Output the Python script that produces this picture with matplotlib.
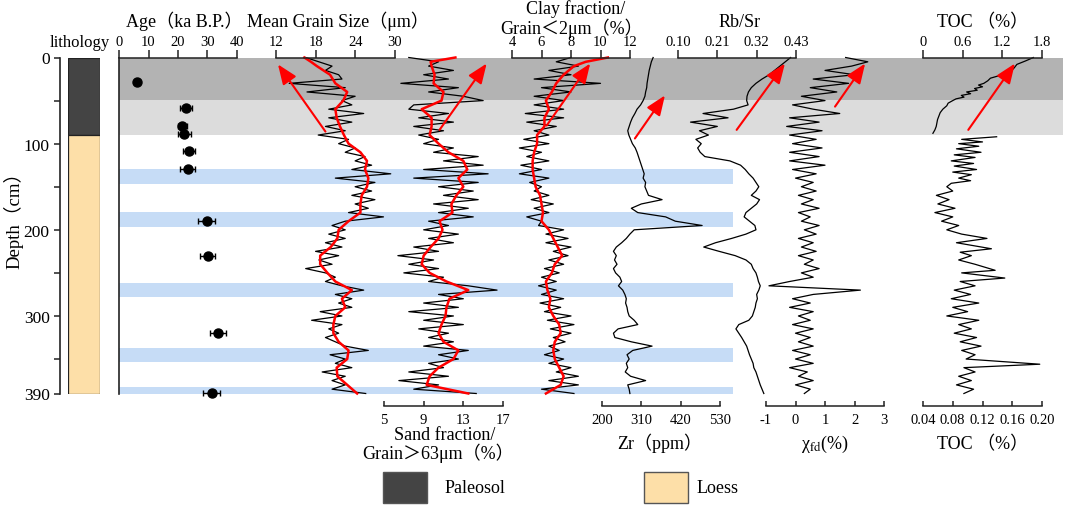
import numpy as np
import matplotlib
matplotlib.use('Agg')
import matplotlib.pyplot as plt
from matplotlib.patches import Rectangle

plt.rcParams['font.family'] = ['Liberation Serif', 'Noto Sans CJK SC']
plt.rcParams['mathtext.fontset'] = 'stix'
plt.rcParams['axes.unicode_minus'] = False

# ---------------- data ----------------
depth5 = np.arange(0, 391, 5)          # sample depths (cm) of raw series
red_depth = [0, 5] + list(range(10, 391, 10))

grain_raw = [16.5, 18.5, 20.5, 19.5, 21.5, 22.0, 14.0, 22.5, 16.7, 24.0,
             22.0, 23.5, 20.0, 25.3, 20.0, 23.5, 19.5, 22.5, 18.4, 23.0,
             21.5, 24.0, 22.5, 25.5, 24.0, 26.5, 23.5, 29.4, 21.0, 27.0,
             24.0, 26.5, 23.5, 27.0, 24.0, 26.0, 23.0, 28.3, 22.5, 20.5,
             22.5, 20.0, 22.5, 19.5, 22.0, 18.0, 21.5, 18.5, 20.5, 16.5,
             19.5, 21.0, 19.5, 22.0, 25.3, 21.0, 23.5, 21.5, 23.5, 18.7,
             22.0, 17.4, 22.0, 20.0, 21.5, 19.5, 21.0, 22.5, 26.0, 20.2,
             22.5, 21.0, 23.5, 19.0, 22.5, 20.5, 22.5, 20.5, 25.6]
grain_smooth = [16.3, 17.3, 18.2, 20.2, 21.0, 22.8, 22.2, 21.0, 21.2, 21.7, 22.3,
                23.0, 24.8, 25.8, 25.5, 26.0, 25.8, 25.0, 24.8, 24.8, 23.0,
                21.5, 21.3, 20.3, 18.7, 18.7, 19.8, 21.0, 23.5, 22.0, 22.5,
                21.0, 20.7, 20.7, 21.5, 23.0, 22.8, 21.2, 21.3, 22.8, 24.3]

sand_raw = [7.5, 10.5, 9.5, 12.0, 9.0, 11.5, 6.7, 12.5, 9.5, 13.0,
            15.0, 8.0, 7.5, 11.5, 8.5, 12.0, 8.0, 11.0, 8.5, 10.5,
            9.0, 12.0, 10.0, 14.5, 11.0, 15.0, 9.0, 15.5, 8.0, 14.5,
            10.5, 14.0, 11.0, 14.5, 10.0, 13.5, 10.5, 14.0, 9.5, 11.5,
            9.0, 12.5, 9.5, 12.0, 8.0, 10.5, 6.4, 10.0, 7.5, 10.5,
            7.0, 11.0, 9.5, 13.5, 16.4, 10.5, 13.0, 9.0, 12.5, 7.5,
            12.0, 9.0, 13.0, 8.5, 11.5, 9.5, 12.0, 9.0, 13.5, 10.5,
            12.5, 9.5, 11.0, 7.5, 11.5, 6.5, 10.5, 8.0, 14.3]
sand_smooth = [12.2, 9.7, 9.8, 10.1, 10.0, 11.0, 10.8, 8.8, 9.8, 9.8, 9.6,
               10.5, 11.5, 13.0, 13.4, 12.5, 13.0, 12.3, 11.8, 11.9, 10.6,
               10.9, 10.5, 9.7, 9.0, 8.8, 9.6, 11.3, 13.5, 11.6, 11.3,
               11.2, 10.8, 10.5, 11.0, 12.5, 12.0, 10.5, 9.6, 9.3, 13.5]

clay_raw = [8.0, 7.0, 8.5, 6.5, 8.0, 5.5, 10.0, 6.0, 8.0, 5.5,
            7.5, 5.5, 7.5, 4.9, 7.5, 5.0, 7.0, 5.5, 6.5, 4.8,
            6.5, 4.5, 6.0, 5.0, 6.5, 4.6, 6.0, 4.5, 6.5, 5.2,
            6.0, 5.5, 6.5, 5.3, 6.8, 5.5, 6.5, 5.0, 6.0, 5.8,
            7.5, 6.3, 7.8, 6.3, 8.0, 6.8, 7.8, 6.5, 7.5, 6.2,
            7.2, 6.0, 7.0, 5.8, 7.0, 6.0, 7.5, 5.9, 7.3, 6.2,
            8.0, 6.4, 8.2, 6.6, 8.0, 6.8, 7.6, 6.5, 7.2, 6.2,
            7.5, 6.5, 8.0, 7.0, 8.5, 6.5, 8.5, 6.0, 8.2]
clay_smooth = [10.5, 9.0, 8.2, 7.5, 7.0, 6.7, 6.3, 6.5, 6.2, 6.2, 5.7,
               5.7, 5.5, 5.4, 5.4, 5.5, 5.6, 5.9, 6.0, 6.1, 6.0,
               6.5, 6.8, 7.1, 7.4, 6.9, 6.7, 6.3, 6.4, 6.6, 6.5,
               6.8, 7.2, 7.3, 6.9, 6.8, 6.9, 7.2, 7.5, 7.3, 6.3]

zr = [343, 338, 335, 332, 330, 328, 326, 325, 322, 320,
      315, 308, 298, 292, 285, 280, 276, 272, 275, 280,
      285, 293, 298, 302, 306, 310, 314, 318, 315, 322,
      320, 325, 330, 368, 310, 282, 300, 378, 405, 480,
      290, 278, 268, 255, 240, 232, 240, 235, 242, 232,
      238, 250, 255, 246, 258, 264, 268, 266, 270, 272,
      276, 290, 300, 245, 232, 236, 282, 340, 286, 270,
      276, 268, 272, 265, 280, 322, 272, 276, 278]

rbsr = [0.415, 0.400, 0.385, 0.370, 0.355, 0.335, 0.318, 0.305, 0.297, 0.293,
        0.292, 0.296, 0.255, 0.170, 0.240, 0.135, 0.210, 0.160, 0.185, 0.150,
        0.165, 0.155, 0.162, 0.175, 0.245, 0.275, 0.288, 0.298, 0.310, 0.318,
        0.326, 0.318, 0.305, 0.328, 0.320, 0.305, 0.290, 0.285, 0.300, 0.315,
        0.318, 0.290, 0.250, 0.205, 0.172, 0.215, 0.260, 0.290, 0.305, 0.310,
        0.318, 0.322, 0.325, 0.330, 0.326, 0.320, 0.322, 0.318, 0.316, 0.312,
        0.308, 0.298, 0.270, 0.262, 0.270, 0.278, 0.285, 0.292, 0.296, 0.300,
        0.305, 0.310, 0.312, 0.318, 0.322, 0.326, 0.330, 0.335, 0.340]

chi = [1.7, 2.45, 1.9, 1.0, 2.0, 0.6, 1.8, 0.5, 1.4, 0.2,
       1.0, -0.1, 0.6, 1.5, -0.2, 0.8, -0.3, 0.9, -0.2, 0.7,
       -0.1, 0.9, -0.2, 0.8, -0.2, 1.0, -0.1, 0.7, 0.0, 0.6,
       0.2, 0.7, 0.1, 0.6, 0.2, 0.8, 0.1, 0.5, 0.2, 0.8,
       0.3, 0.7, 0.1, 0.6, 0.2, 0.7, 0.1, 0.6, 0.3, 0.8,
       0.2, 0.6, -0.2, -0.9, 2.2, 0.6, -0.1, 0.5, -0.2, 0.6,
       0.1, 0.5, -0.1, 0.6, 0.0, 0.5, 0.1, 0.6, -0.1, 0.5,
       0.0, 0.6, -0.2, 0.4, 0.1, 0.6, 0.0, 0.5, 0.3]

toc_up_depth = [0, 4, 8, 12, 16, 20, 24, 27, 30, 32, 34, 36, 38, 40, 42, 44, 46,
                48, 50, 53, 56, 60, 64, 68, 72, 76, 80, 84, 88]
toc_up = [1.67, 1.55, 1.42, 1.38, 1.33, 1.20, 1.02, 0.98, 0.92, 0.84, 0.90, 0.78,
          0.82, 0.66, 0.72, 0.58, 0.62, 0.50, 0.45, 0.38, 0.36, 0.30, 0.26, 0.24,
          0.22, 0.21, 0.20, 0.18, 0.15]

toc_lo_depth = [92, 95, 98, 100, 103, 106, 110, 113, 116, 120, 123, 126, 130, 133,
                136, 140, 143, 146, 150, 155, 160, 165, 170, 175, 180, 185, 190,
                195, 200, 205, 210, 215, 222, 226, 230, 235, 240, 247, 250, 256,
                260, 265, 270, 275, 280, 285, 290, 295, 300, 305, 310, 315, 320,
                325, 330, 335, 340, 345, 350, 356, 360, 365, 370, 375, 380, 385, 390]
toc_lo = [0.139, 0.092, 0.12, 0.088, 0.115, 0.085, 0.118, 0.082, 0.11, 0.078,
          0.108, 0.082, 0.112, 0.08, 0.105, 0.088, 0.104, 0.078, 0.072, 0.08,
          0.058, 0.075, 0.06, 0.083, 0.056, 0.08, 0.065, 0.088, 0.072, 0.092,
          0.126, 0.085, 0.132, 0.09, 0.105, 0.088, 0.11, 0.137, 0.092, 0.15,
          0.09, 0.11, 0.082, 0.104, 0.078, 0.115, 0.08, 0.10, 0.072, 0.115,
          0.088, 0.105, 0.082, 0.112, 0.09, 0.118, 0.092, 0.11, 0.098, 0.197,
          0.095, 0.11, 0.088, 0.105, 0.085, 0.108, 0.095]

age_depth = [28, 59, 79, 89, 109, 129, 190, 230, 320, 389]
age = [6.2, 22.7, 21.5, 22.2, 23.7, 23.3, 29.7, 30.1, 33.5, 31.5]
age_err = [0.6, 1.9, 1.5, 2.3, 2.1, 2.5, 2.9, 2.5, 2.8, 2.9]

litho_top = [0, 90]
litho_bottom = [90, 390]
litho_names = ['Paleosol', 'Loess']
litho_colors = ['#444444', '#fddfa8']

gray_bands = [(0, 49.5, '#b3b3b3'), (49.5, 89.5, '#dcdcdc')]
blue_top = [129, 179.5, 262, 336.7, 383]
blue_bottom = [146.6, 197, 278.3, 353, 390]

# arrows: (tail x, tail depth, head x, head depth) in each track's units
arrow_grain = (19.5, 86, 12.3, 8)
arrow_sand = (10.6, 84, 15.35, 7)
arrow_clay = (6.35, 79, 9.3, 7)
arrow_zr = (292, 94, 376, 44)
arrow_rbsr = (0.264, 84, 0.399, 7)
arrow_chi = (1.34, 57, 2.36, 7)
arrow_toc = (0.685, 84, 1.39, 7)

# ---------------- figure ----------------
W, H = 1065, 506
fig = plt.figure(figsize=(W / 100, H / 100), dpi=100)
Y0, Y1 = 58.5, 394.5
SPC = '#222222'
TICK_FS = 10.5
TITLE_FS = 13
LW_BLACK = 0.9
LW_RED = 1.8


def add_ax(x0, x1):
    ax = fig.add_axes([x0 / W, 1 - Y1 / H, (x1 - x0) / W, (Y1 - Y0) / H])
    ax.set_facecolor('none')
    ax.set_ylim(390, 0)
    for s in ax.spines.values():
        s.set_visible(False)
    ax.tick_params(left=False, labelleft=False, bottom=False, labelbottom=False,
                   top=False, labeltop=False)
    return ax


def top_axis(ax, lim, ticks, labels):
    ax.set_xlim(*lim)
    ax.spines['top'].set_visible(True)
    ax.spines['top'].set_linewidth(1.1)
    ax.spines['top'].set_color(SPC)
    ax.set_xticks(ticks)
    ax.set_xticklabels(labels)
    ax.tick_params(axis='x', top=True, labeltop=True, bottom=False, labelbottom=False,
                   direction='out', length=5.5, width=1.1, pad=1.0,
                   labelsize=TICK_FS, color=SPC)


def bottom_axis(ax, lim, ticks, labels):
    ax.set_xlim(*lim)
    sp = ax.spines['bottom']
    sp.set_visible(True)
    sp.set_linewidth(1.1)
    sp.set_color(SPC)
    sp.set_position(('outward', 9))
    ax.set_xticks(ticks)
    ax.set_xticklabels(labels)
    ax.tick_params(axis='x', bottom=True, labelbottom=True, top=False, labeltop=False,
                   direction='in', length=3.4, width=1.1, pad=5.0,
                   labelsize=TICK_FS, color=SPC)


def arrow(ax, a):
    ax.annotate('', xy=(a[2], a[3]), xytext=(a[0], a[1]), xycoords='data',
                arrowprops=dict(arrowstyle='-|>,head_length=0.8,head_width=0.32',
                                mutation_scale=15, color='#ff0000', lw=1.5,
                                shrinkA=0, shrinkB=0), annotation_clip=False)


# background bands
axb = add_ax(119, 1063)
axb.set_xlim(0, 1)
for top, bot, c in gray_bands:
    axb.axhspan(top, bot, color=c, lw=0, zorder=0)
blue_frac = (733 - 119) / (1063 - 119)
for t, b in zip(blue_top, blue_bottom):
    axb.axhspan(t, b, xmin=0, xmax=blue_frac, color='#c6dcf6', lw=0, zorder=0)
axb.spines['left'].set_visible(True)
axb.spines['left'].set_linewidth(1.2)
axb.spines['left'].set_color(SPC)

# depth axis
axd = add_ax(60, 61)
axd.spines['left'].set_visible(True)
axd.spines['left'].set_linewidth(1.2)
axd.spines['left'].set_color(SPC)
dt = [0, 50, 100, 150, 200, 250, 300, 350, 390]
axd.set_yticks(dt)
axd.set_yticklabels([str(v) if v in (0, 100, 200, 300, 390) else '' for v in dt])
axd.tick_params(axis='y', left=True, labelleft=True, direction='out', length=4.5,
                width=1.1, pad=3, labelsize=12.5, color=SPC)

# lithology column
axl = add_ax(68, 99.5)
axl.set_xlim(0, 1)
for t, b, c in zip(litho_top, litho_bottom, litho_colors):
    axl.bar(0.5, b - t, bottom=t, width=1, color=c, edgecolor='#222222', lw=0.9)

# age
axa = add_ax(119, 237)
top_axis(axa, (0, 40), [0, 10, 20, 30, 40], ['0', '10', '20', '30', '40'])
axa.errorbar(age, age_depth, xerr=age_err, fmt='o', color='black', ms=6.5,
             capsize=2.5, elinewidth=1, capthick=1, clip_on=False)

# mean grain size
axg = add_ax(276, 394.7)
top_axis(axg, (12, 30), [12, 18, 24, 30], ['12', '18', '24', '30'])
axg.plot(grain_raw, depth5, color='black', lw=LW_BLACK, clip_on=False)
axg.plot(grain_smooth, red_depth, color='#ff0000', lw=LW_RED, clip_on=False)
arrow(axg, arrow_grain)

# sand
axs = add_ax(384, 503)
bottom_axis(axs, (5, 17), [5, 9, 13, 17], ['5', '9', '13', '17'])
axs.plot(sand_raw, depth5, color='black', lw=LW_BLACK, clip_on=False)
axs.plot(sand_smooth, red_depth, color='#ff0000', lw=LW_RED, clip_on=False)
arrow(axs, arrow_sand)

# clay
axc = add_ax(512, 630)
top_axis(axc, (4, 12), [4, 6, 8, 10, 12], ['4', '6', '8', '10', '12'])
axc.plot(clay_raw, depth5, color='black', lw=LW_BLACK, clip_on=False)
axc.plot(clay_smooth, red_depth, color='#ff0000', lw=LW_RED, clip_on=False)
arrow(axc, arrow_clay)

# Zr
axz = add_ax(602, 720)
bottom_axis(axz, (200, 530), [200, 310, 420, 530], ['200', '310', '420', '530'])
axz.plot(zr, depth5, color='black', lw=LW_BLACK, clip_on=False)
arrow(axz, arrow_zr)

# Rb/Sr
axr = add_ax(678, 796)
top_axis(axr, (0.10, 0.43), [0.10, 0.21, 0.32, 0.43], ['0.10', '0.21', '0.32', '0.43'])
axr.plot(rbsr, depth5, color='black', lw=LW_BLACK, clip_on=False)
arrow(axr, arrow_rbsr)

# chi fd
axx = add_ax(766, 884)
bottom_axis(axx, (-1, 3), [-1, 0, 1, 2, 3], ['-1', '0', '1', '2', '3'])
axx.plot(chi, depth5, color='black', lw=LW_BLACK, clip_on=False)
arrow(axx, arrow_chi)

# TOC
axt = add_ax(923, 1042)
top_axis(axt, (0, 1.8), [0, 0.6, 1.2, 1.8], ['0', '0.6', '1.2', '1.8'])
axt.plot(toc_up, toc_up_depth, color='black', lw=LW_BLACK, clip_on=False)
arrow(axt, arrow_toc)
axt2 = add_ax(923, 1042)
bottom_axis(axt2, (0.04, 0.20), [0.04, 0.08, 0.12, 0.16, 0.20],
            ['0.04', '0.08', '0.12', '0.16', '0.20'])
axt2.plot(toc_lo, toc_lo_depth, color='black', lw=LW_BLACK, clip_on=False)


# ---------------- texts ----------------
def ftext(x, y, s, size=TITLE_FS, ha='center', va='baseline', **kw):
    fig.text(x / W, 1 - y / H, s, ha=ha, va=va, fontsize=size, **kw)


ftext(80, 47, 'lithology', size=12)
ftext(184, 27, 'Age（ka B.P.）')
ftext(338, 27, 'Mean Grain Size（μm）')
ftext(576, 14, 'Clay fraction/')
ftext(572, 34, 'Grain＜2μm（%）')
ftext(740, 27, 'Rb/Sr')
ftext(983, 27, 'TOC （%）')
ftext(445, 440, 'Sand fraction/')
ftext(438, 459, 'Grain＞63μm（%）')
ftext(660, 449, 'Zr（ppm）')
ftext(825, 449, 'χ$_{\\rm fd}$(%)')
ftext(983, 449, 'TOC （%）')
ftext(13, 216, 'Depth（cm）', size=13.5, va='center', rotation=90)

# legend
for x0, name, c, tx in [(383, litho_names[0], litho_colors[0], 445),
                        (644, litho_names[1], litho_colors[1], 697)]:
    fig.add_artist(Rectangle((x0 / W, 1 - 504 / H), 44 / W, 31 / H,
                             transform=fig.transFigure, facecolor=c,
                             edgecolor='#555555', lw=1))
    ftext(tx, 493, name, size=13, ha='left')

fig.savefig('out.png', dpi=100)
